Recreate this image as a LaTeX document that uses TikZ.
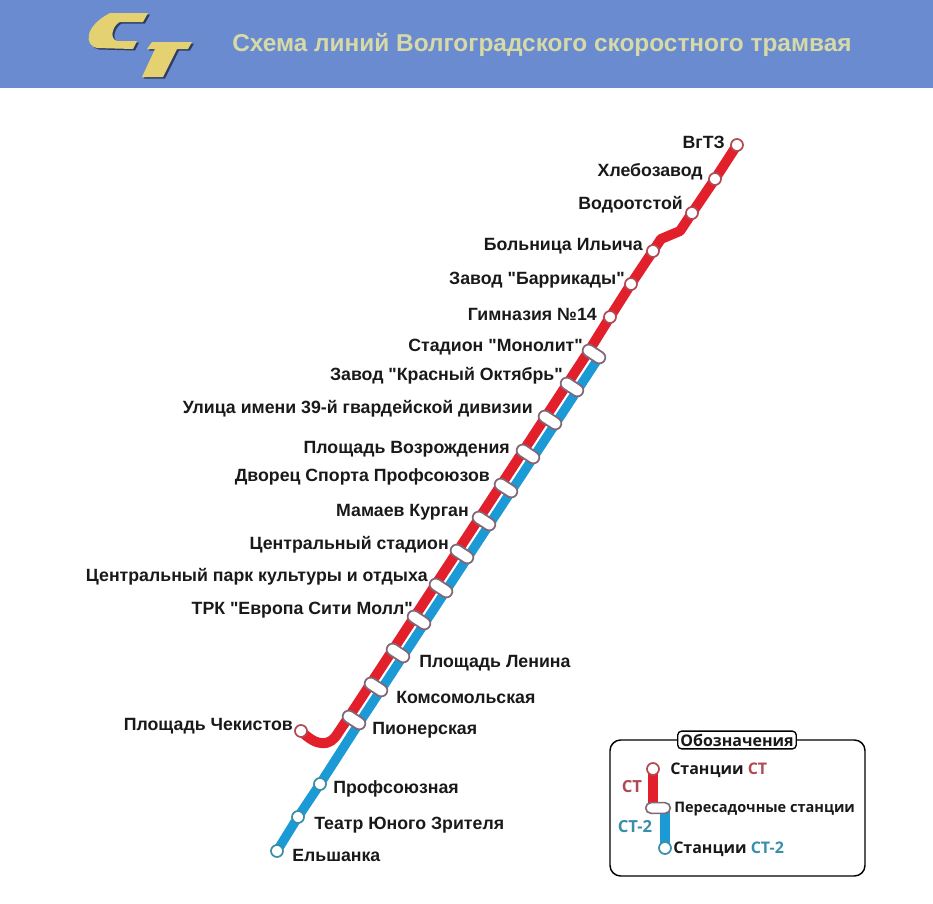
\documentclass[tikz,border=0pt]{standalone}
\usepackage{fontspec}
\setmainfont{Liberation Sans}[Ligatures=TeXOff]
\newfontfamily\legendfont{Open Sans}
\usetikzlibrary{shapes.misc,backgrounds,calc}
\definecolor{bandblue}{HTML}{6A8BD0}
\definecolor{titlecol}{HTML}{D6DAA6}
\definecolor{logocol}{HTML}{E3D172}
\definecolor{logoshade}{HTML}{2E3D66}
\definecolor{redline}{HTML}{E2202C}
\definecolor{blueline}{HTML}{1B9AD6}
\definecolor{redring}{HTML}{B04A55}
\definecolor{bluering}{HTML}{3A8FA8}
\tikzset{
  stnred/.style={circle,draw=redring,fill=white,line width=1.3pt,minimum size=9pt,inner sep=0pt},
  stnblue/.style={circle,draw=bluering,fill=white,line width=1.3pt,minimum size=9pt,inner sep=0pt},
  xfer/.style={rounded rectangle,draw=redring!60!bluering,fill=white,line width=1.3pt,minimum width=18.5pt,minimum height=9pt,inner sep=0pt,rotate=-33},
  redtrack/.style={draw=redline,line width=7.5pt,line join=round},
  bluetrack/.style={draw=blueline,line width=7pt,line join=round},
  lbl/.style={font=\bfseries\fontsize{13.3}{13.3}\selectfont,text=black!90,inner sep=0pt},
  lbr/.style={lbl,anchor=base east},
  lbg/.style={lbl,anchor=base west},
  leg/.style={font=\legendfont\bfseries\fontsize{12}{12}\selectfont,text=black!90,inner sep=0pt,anchor=base west},
  legcol/.style={font=\legendfont\bfseries\fontsize{12.5}{12.5}\selectfont,inner sep=0pt,anchor=base},
}
\begin{document}
\begin{tikzpicture}[x=.75pt,y=-.75pt]
\useasboundingbox (0,0) rectangle (933,904);
\fill[bandblue] (0,0) rectangle (933,88);
% logo
\begin{scope}[shift={(2,1.5)}]
\fill[logoshade] (110,13) -- (148,13) -- (143,22) -- (120,22) .. controls (114,24) and (108,38) .. (117,41) -- (137,41) -- (133,49) -- (97,48) .. controls (85,46) and (83,27) .. (110,13) -- cycle;
\fill[logoshade] (152,42) -- (192,42) -- (188,49) -- (177,49) -- (163,77) -- (142,77) -- (155,49) -- (147,49) -- cycle;
\end{scope}
\fill[logocol] (110,13) -- (148,13) -- (143,22) -- (120,22) .. controls (114,24) and (108,38) .. (117,41) -- (137,41) -- (133,49) -- (97,48) .. controls (85,46) and (83,27) .. (110,13) -- cycle;
\fill[logocol] (152,42) -- (192,42) -- (188,49) -- (177,49) -- (163,77) -- (142,77) -- (155,49) -- (147,49) -- cycle;
\node[font=\bfseries\fontsize{18.3}{18.3}\selectfont,text=titlecol,anchor=base west,inner sep=0pt] (title) at (232,51) {Схема линий Волгоградского скоростного трамвая};
% stations
\node[stnred] (s1) at (737,145) {};
\node[stnred] (s2) at (715,179) {};
\node[stnred] (s3) at (692,213) {};
\coordinate (k1) at (680,231);
\coordinate (k2) at (661,239);
\node[stnred] (s4) at (653,251) {};
\node[stnred] (s5) at (631,284) {};
\node[stnred] (s6) at (610,317) {};
\foreach \i/\x/\y in {1/594/354,2/572/387,3/550/420,4/528/454,5/506/488,6/484/521,7/462/554,8/441/588,9/419/620,10/398/653,11/376/687,12/354/720}{
  \node[xfer] (c\i) at (\x,\y) {};
  \coordinate (r\i) at ($(c\i)+(-5,-3.3)$);
  \coordinate (b\i) at ($(c\i)+(5,3.3)$);
}
\node[stnred] (s7) at (301,731) {};
\node[stnblue] (b13) at (320,784) {};
\node[stnblue] (b14) at (298,817) {};
\node[stnblue] (b15) at (277,851) {};
\coordinate (k3) at (338,733);
\begin{scope}[on background layer]
\draw[redtrack] (s1.center) -- (s2.center) -- (s3.center) -- (k1) -- (k2) -- (s4.center) -- (s5.center) -- (s6.center) -- (r1) -- (r12) -- (k3) .. controls (330,747) and (317,747) .. (s7.center);
\draw[bluetrack] (b1) -- (b12) -- (b13.center) -- (b14.center) -- (b15.center);
\end{scope}
% labels
\node[lbr] (l1) at (725,148) {ВгТЗ};
\node[lbr] (l2) at (703,176) {Хлебозавод};
\node[lbr] (l3) at (683,209) {Водоотстой};
\node[lbr] (l4) at (643,250) {Больница Ильича};
\node[lbr] (l5) at (625,284) {Завод "Баррикады"};
\node[lbr] (l6) at (597,320) {Гимназия №14};
\node[lbr] (l7) at (583,351) {Стадион "Монолит"};
\node[lbr] (l8) at (563,380) {Завод "Красный Октябрь"};
\node[lbr] (l9) at (533,413) {Улица имени 39-й гвардейской дивизии};
\node[lbr] (l10) at (510,453) {Площадь Возрождения};
\node[lbr] (l11) at (490,481) {Дворец Спорта Профсоюзов};
\node[lbr] (l12) at (469,516) {Мамаев Курган};
\node[lbr] (l13) at (449,549) {Центральный стадион};
\node[lbr] (l14) at (428,581) {Центральный парк культуры и отдыха};
\node[lbr] (l15) at (413,614) {ТРК "Европа Сити Молл"};
\node[lbg] (l16) at (419,667) {Площадь Ленина};
\node[lbg] (l17) at (396,703) {Комсомольская};
\node[lbg] (l18) at (372,734) {Пионерская};
\node[lbr] (l19) at (293,730) {Площадь Чекистов};
\node[lbg] (l20) at (333,793) {Профсоюзная};
\node[lbg] (l21) at (314,829) {Театр Юного Зрителя};
\node[lbg] (l22) at (292,861) {Ельшанка};
% legend
\draw[black,line width=1.1pt,rounded corners=8pt] (610,740) rectangle (865,876);
\node[draw=black,fill=white,line width=1pt,rounded corners=3pt,inner xsep=2pt,inner ysep=2pt,font=\legendfont\bfseries\fontsize{12}{12}\selectfont,text=black!90] (legtitle) at (737,740) {Обозначения};
\node[stnred] (ls1) at (653,769) {};
\node[rounded rectangle,draw=redring!60!bluering,fill=white,line width=1.2pt,minimum width=18.5pt,minimum height=8pt,inner sep=0pt] (ls2) at (658,808) {};
\node[stnblue] (ls3) at (665,848) {};
\coordinate (ls2r) at ($(ls2)+(-5,0)$);
\coordinate (ls2b) at ($(ls2)+(7,0)$);
\begin{scope}[on background layer]
\draw[redtrack] (ls1.center) -- (ls2r);
\draw[bluetrack] (ls2b) -- (ls3.center);
\end{scope}
\node[leg] (lt1) at (670,774) {Станции \textcolor{redring}{СТ}};
\node[legcol,text=redring] (lt2) at (632,792) {СТ};
\node[leg,font=\legendfont\bfseries\fontsize{10.9}{10.9}\selectfont] (lt3) at (674,812) {Пересадочные станции};
\node[legcol,text=bluering] (lt4) at (635,832) {СТ-2};
\node[leg] (lt5) at (673,853) {Станции \textcolor{bluering}{СТ-2}};
\end{tikzpicture}
\end{document}
